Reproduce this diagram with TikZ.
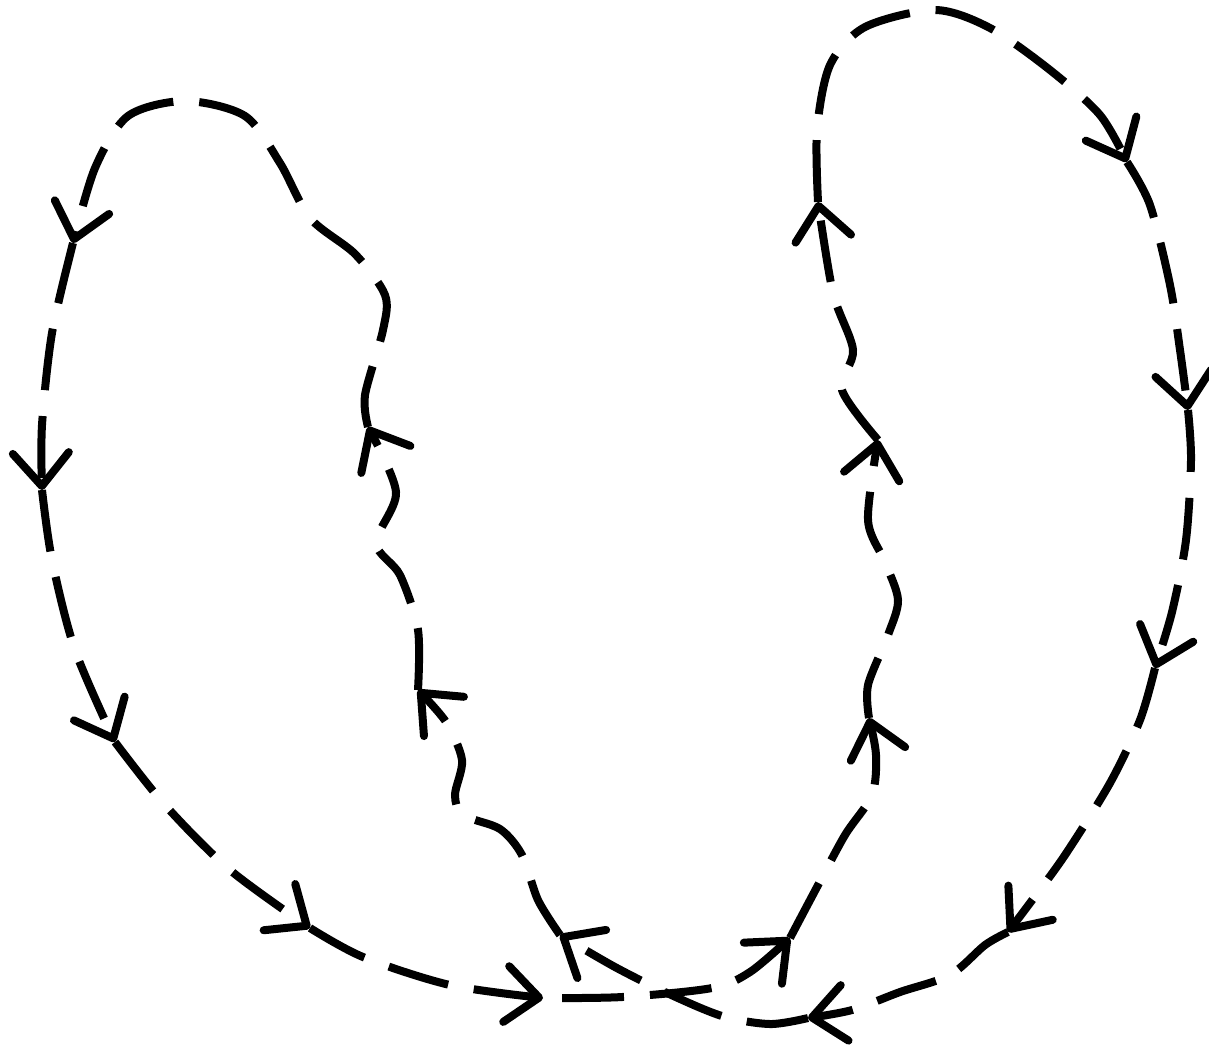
\documentclass[tikz,border=0pt]{standalone}
\usepackage{tikz}
\usepackage{xcolor}
\usetikzlibrary{arrows.meta}
\definecolor{ink}{HTML}{000000}
\tikzset{
  trail/.style ={draw=ink, line width=0.8mm,
                 dash pattern=on 6.2mm off 2.6mm,
                 -{Straight Barb[round,length=3.3mm,width=5.6mm]}},
}

\begin{document}
\begin{tikzpicture}[x=0.1mm,y=-0.1mm]
    \useasboundingbox (0,0) rectangle (1209,1046);
    % tips of the left loop
    \coordinate (L1) at (560,935);
    \coordinate (L2) at (418,690);
    \coordinate (L3) at (368,427);
    \coordinate (L4) at (73,243);
    \coordinate (L5) at (42,490);
    \coordinate (L6) at (115,742);
    \coordinate (L7) at (310,928);
    \coordinate (L8) at (543,998);
    % tips of the right loop
    \coordinate (R1) at (790,938);
    \coordinate (R2) at (869,718);
    \coordinate (R3) at (878,440);
    \coordinate (R4) at (818,202);
    \coordinate (R5) at (1127,162);
    \coordinate (R6) at (1188,410);
    \coordinate (R7) at (1155,668);
    \coordinate (R8) at (1008,932);
    \coordinate (R9) at (808,1018);

    \draw[trail] plot[smooth] coordinates {(L1) (538,900) (522,855) (500,829)
      (463,815) (455,795) (462,760) (446,722) (L2)};
    \draw[trail] plot[smooth] coordinates {(L2) (418,630) (400,575) (376,543)
      (396,492) (L3)};
    \draw[trail] plot[smooth] coordinates {(L3) (365,395) (383,330) (385,295)
      (355,254) (310,218) (280,163) (245,116) (185,101) (128,116) (95,168)
      (L4)};
    \draw[trail] plot[smooth] coordinates {(L4) (52,333) (42,425) (L5)};
    \draw[trail] plot[smooth] coordinates {(L5) (52,560) (75,650) (L6)};
    \draw[trail] plot[smooth] coordinates {(L6) (165,805) (230,870) (L7)};
    \draw[trail] plot[smooth] coordinates {(L7) (363,957) (450,985) (L8)};

    \draw[trail,dash phase=-1.9mm] plot[smooth] coordinates {(L8) (622,997)
      (712,988) (750,972) (R1)};
    \draw[trail] plot[smooth] coordinates {(R1) (817,887) (845,835) (872,795)
      (876,755) (R2)};
    \draw[trail] plot[smooth] coordinates {(R2) (868,685) (888,635) (898,600)
      (885,562) (868,520) (R3)};
    \draw[trail] plot[smooth] coordinates {(R3) (842,390) (853,350) (833,293)
      (R4)};
    \draw[trail] plot[smooth] coordinates {(R4) (817,130) (830,65) (865,27)
      (935,10) (990,28) (1050,70) (1100,115) (R5)};
    \draw[trail] plot[smooth] coordinates {(R5) (1150,205) (1170,285)
      (1180,350) (R6)};
    \draw[trail] plot[smooth] coordinates {(R6) (1191,460) (1186,540)
      (1172,612) (R7)};
    \draw[trail] plot[smooth] coordinates {(R7) (1140,720) (1110,783)
      (1065,855) (1030,903) (R8)};
    \draw[trail] plot[smooth] coordinates {(R8) (985,945) (950,975)
      (900,992) (852,1010) (R9)};
    \draw[trail] plot[smooth] coordinates {(R9) (770,1024) (722,1016)
      (667,993) (615,967) (L1)};
\end{tikzpicture}
\end{document}
